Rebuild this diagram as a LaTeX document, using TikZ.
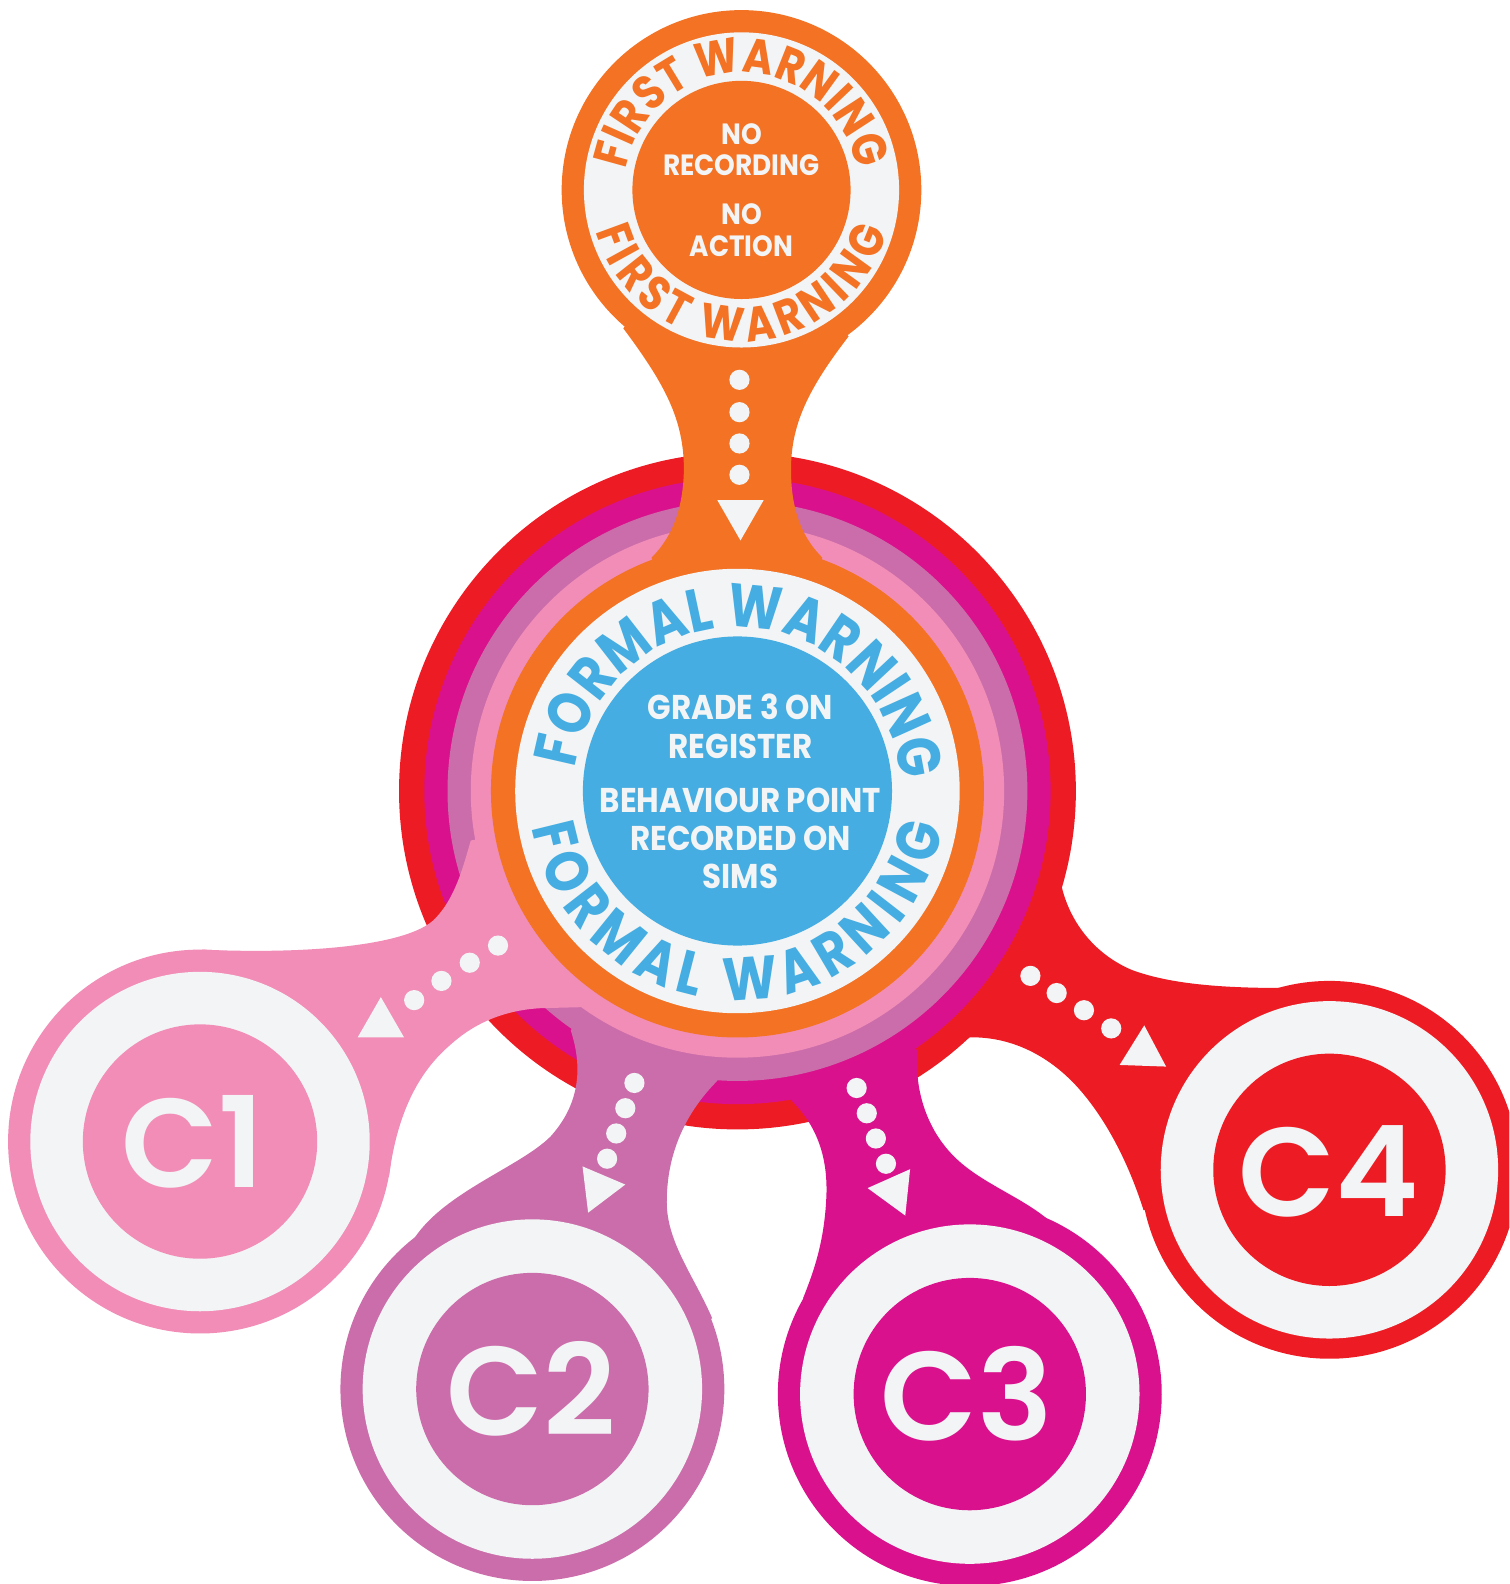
\documentclass[tikz,border=0pt]{standalone}
\usepackage{fontspec}
\setmainfont{Poppins}[FakeStretch=0.9]
\newfontfamily\ringfont{Poppins}[FakeStretch=0.85]
\newfontfamily\labelfont{Poppins SemiBold}
\usetikzlibrary{decorations.text}
\definecolor{swred}{HTML}{ED1C24}
\definecolor{swmagenta}{HTML}{D9118C}
\definecolor{swmauve}{HTML}{CB6DAA}
\definecolor{swpink}{HTML}{F18DB7}
\definecolor{sworange}{HTML}{F37223}
\definecolor{swblue}{HTML}{45ADE1}
\definecolor{swgrey}{HTML}{F2F4F5}
\tikzset{
  flowdot/.style={fill=swgrey},
  flowtip/.pic={\fill[swgrey] (-20,-23) -- (-20,23) -- (20,0) -- cycle;},
  notetext/.style={text=swgrey, align=center, font=\fontsize{29}{31}\selectfont\bfseries},
  maintext/.style={text=swgrey, align=center, font=\fontsize{34}{38}\selectfont\bfseries},
  clabel/.style={text=swgrey, inner sep=0pt, font=\labelfont\fontsize{125}{125}\selectfont},
  ringtext/.style n args={3}{decorate, decoration={text along path, text color=#1,
      text={|\ringfont\fontsize{#2}{#2}\selectfont\bfseries|#3}, text align={fit to path}}}
}
\begin{document}
\begin{tikzpicture}[x=1pt, y=-1pt]
  \fill[white] (0,0) rectangle (1494,1568);
  \useasboundingbox (0,0) rectangle (1494,1568);
  \clip (0,0) rectangle (1494,1568);

  \coordinate (M) at (730,783);
  \coordinate (T) at (734,188);
  \coordinate (C1) at (198,1130);
  \coordinate (C2) at (527,1375);
  \coordinate (C3) at (960,1380);
  \coordinate (C4) at (1316,1158);

  % C4 (red)
  \fill[swred] (M) circle[radius=335];
  \fill[swred] (M) -- (1051,878) .. controls (1060,915) and (1085,945) .. (1120,960)
    .. controls (1160,975) and (1215,978) .. (1270,978) -- (C4) -- (1132,1198)
    .. controls (1120,1160) and (1100,1115) .. (1070,1080)
    .. controls (1040,1045) and (1000,1025) .. (957,1027) -- cycle;
  \fill[swred] (C4) circle[radius=187];
  \fill[swgrey] (C4) circle[radius=167];
  \fill[swred] (C4) circle[radius=115];

  % C3 (magenta)
  \fill[swmagenta] (M) circle[radius=310];
  \fill[swmagenta] (M) -- (782,1088) .. controls (805,1110) and (820,1140) .. (818,1185)
    .. controls (816,1230) and (805,1260) .. (795,1285) -- (C3) -- (1036,1206)
    .. controls (1010,1185) and (975,1172) .. (950,1150)
    .. controls (918,1122) and (905,1080) .. (908,1040) -- cycle;
  \fill[swmagenta] (C3) circle[radius=190];
  \fill[swgrey] (C3) circle[radius=168];
  \fill[swmagenta] (C3) circle[radius=115];

  % C2 (mauve)
  \fill[swmauve] (M) circle[radius=287];
  \fill[swmauve] (M) -- (565,1020) .. controls (578,1060) and (572,1095) .. (545,1125)
    .. controls (515,1155) and (440,1180) .. (410,1226) -- (C2) -- (705,1305)
    .. controls (688,1265) and (660,1230) .. (660,1190)
    .. controls (660,1140) and (680,1100) .. (710,1070) -- cycle;
  \fill[swmauve] (C2) circle[radius=190];
  \fill[swgrey] (C2) circle[radius=168];
  \fill[swmauve] (C2) circle[radius=115];

  % C1 (pink)
  \fill[swpink] (M) circle[radius=264];
  \fill[swpink] (M) -- (466,832) .. controls (458,860) and (450,890) .. (430,910)
    .. controls (405,935) and (310,945) .. (200,940) -- (C1) -- (385,1165)
    .. controls (392,1110) and (410,1065) .. (445,1035)
    .. controls (470,1012) and (500,1000) .. (535,998) -- (575,997) -- cycle;
  \fill[swpink] (C1) circle[radius=190];
  \fill[swgrey] (C1) circle[radius=168];
  \fill[swpink] (C1) circle[radius=116];

  % first warning (orange)
  \fill[sworange] (M) circle[radius=244];
  \fill[sworange] (T) -- (617,325) .. controls (658,380) and (677,415) .. (677,465)
    .. controls (676,510) and (662,535) .. (645,552) -- (M) -- (814,552)
    .. controls (797,535) and (783,510) .. (783,465)
    .. controls (783,420) and (800,385) .. (840,333) -- cycle;
  \fill[sworange] (T) circle[radius=178];
  \fill[swgrey] (T) circle[radius=156];
  \fill[sworange] (T) circle[radius=108];

  % formal warning
  \fill[swgrey] (M) circle[radius=220];
  \fill[swblue] (M) circle[radius=153];

  \path[ringtext={sworange}{48}{FIRST WARNING}]
    (T) ++(-170:116) arc[start angle=-170, end angle=-10, radius=116];
  \path[ringtext={sworange}{48}{FIRST WARNING}]
    (T) ++(-196:150) arc[start angle=-196, end angle=-344, radius=150];
  \path[ringtext={swblue}{60}{FORMAL WARNING}]
    (M) ++(-172:162) arc[start angle=-172, end angle=-8, radius=162];
  \path[ringtext={swblue}{60}{FORMAL WARNING}]
    (M) ++(-190:207) arc[start angle=-190, end angle=-350, radius=207];

  \node[notetext] (record) at (734,148) {NO\\RECORDING};
  \node[notetext] (action) at (734,228) {NO\\ACTION};
  \node[maintext] (grade) at (733,719) {GRADE 3 ON\\REGISTER};
  \node[maintext] (sims) at (733,830) {BEHAVIOUR POINT\\RECORDED ON\\SIMS};

  \node[clabel] (c1label) at (191,1130) {C1};
  \node[clabel] (c2label) at (526,1375) {C2};
  \node[clabel] (c3label) at (957,1380) {C3};
  \node[clabel] (c4label) at (1315,1160) {C4};

  % dotted arrows
  \foreach \p in {(732,376),(732,408),(732,439),(732,470)}
    \fill[flowdot] \p circle[radius=10];
  \pic[rotate=-90] at (733,515) {flowtip};
  \foreach \p in {(493,936),(465,953),(437,971),(410,990)}
    \fill[flowdot] \p circle[radius=10];
  \pic[rotate=90] at (377,1007) {flowtip};
  \foreach \p in {(628,1072),(619,1097),(610,1122),(601,1147)}
    \fill[flowdot] \p circle[radius=10];
  \pic[rotate=-113] at (590,1182) {flowtip};
  \foreach \p in {(848,1077),(858,1102),(867,1127),(877,1152)}
    \fill[flowdot] \p circle[radius=10];
  \pic[rotate=-66] at (888,1185) {flowtip};
  \foreach \p in {(1020,966),(1046,983),(1073,1000),(1100,1018)}
    \fill[flowdot] \p circle[radius=10];
  \pic[rotate=88] at (1132,1035) {flowtip};
\end{tikzpicture}
\end{document}
